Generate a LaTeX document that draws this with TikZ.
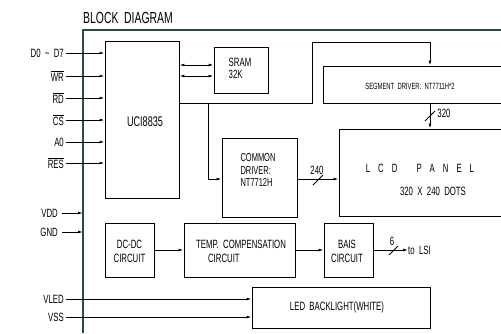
\documentclass[tikz,border=0pt]{standalone}
\usepackage{fontspec}
\setmainfont{Liberation Sans}[FakeStretch=0.65]
\usetikzlibrary{arrows.meta}
\definecolor{framecol}{RGB}{40,72,76}
\newcommand{\fsz}[1]{\fontsize{#1}{#1}\selectfont}
\newcommand{\ovl}[1]{$\overline{\mbox{#1}}$}
\begin{document}
\begin{tikzpicture}[x=1pt,y=-1pt,
  box/.style={draw,line width=0.85pt,inner sep=0},
  arr/.style={line width=0.85pt,-{Latex[length=5pt,width=2.8pt]}},
  darr/.style={line width=0.85pt,{Latex[length=5pt,width=2.8pt]}-{Latex[length=5pt,width=2.8pt]}},
  ln/.style={line width=0.85pt},
  lbl/.style={font=\fsz{12},inner sep=0,anchor=east},
  txt/.style={font=\fsz{12},inner sep=0,align=center},
]
\useasboundingbox (0,0) rectangle (501,333);
\clip (0,0) rectangle (501,333);

% frame
\draw[framecol,line width=1.1pt] (83,333) -- (83,30) -- (501,30);
\coordinate (fl) at (83,30);
\node[anchor=west,font=\fsz{16},inner sep=0] (title) at (83,18) {BLOCK\ \ DIAGRAM};

% boxes
\node[box,minimum width=74pt,minimum height=157pt] (uci) at (142,119.5) {};
\node[txt,font=\fsz{14}] (ucit) at (145,122) {UCI8835};
\node[box,minimum width=54pt,minimum height=46pt] (sram) at (241,70) {};
\node[txt,align=left] (sramt) at (240,68) {SRAM\\[0pt]32K};
\node[box,minimum width=197pt,minimum height=37pt] (seg) at (421.5,84.5) {};
\node[txt,font=\fsz{9}] (segt) at (410,86) {SEGMENT\ \ DRIVER:\ \ NT7711H*2};
\node[box,minimum width=75pt,minimum height=79pt] (cd) at (259.5,177.5) {};
\node[txt,align=left,font=\fsz{11.5}] (cdt) at (258,170) {COMMON\\[1pt]DRIVER:\\[1pt]NT7712H};
\node[box,minimum width=181pt,minimum height=87pt] (lcd) at (429.5,172.5) {};
\node[txt] (lcdt1) at (420,168) {L\hspace{8pt}C\hspace{8pt}D\hspace{19pt}P\hspace{8pt}A\hspace{8pt}N\hspace{8pt}E\hspace{8pt}L};
\node[txt] (lcdt2) at (433,191) {320\ \ X\ \ 240\ \ DOTS};
\node[box,minimum width=49pt,minimum height=54pt] (dcdc) at (129.5,250) {};
\node[txt] (dcdct) at (129.5,251) {DC-DC\\[2pt]CIRCUIT};
\node[box,minimum width=111pt,minimum height=54pt] (temp) at (239.5,250) {};
\node[txt,align=left] (tempt) at (241,251) {TEMP.\ \ COMPENSATION\\[2pt]\hspace*{12pt}CIRCUIT};
\node[box,minimum width=49pt,minimum height=54pt] (bais) at (348.5,250) {};
\node[txt] (baist) at (347,251) {BAIS\\[2pt]CIRCUIT};
\node[box,minimum width=178pt,minimum height=41pt] (led) at (341,307.5) {};
\node[txt] (ledt) at (337,307) {LED\ \ BACKLIGHT(WHITE)};

% input pins
\node[lbl] (pD) at (64,53) {D0\ \ \textasciitilde\ \ D7};
\node[lbl] (pWR) at (64,76) {\ovl{WR}};
\node[lbl] (pRD) at (64,98) {\ovl{RD}};
\node[lbl] (pCS) at (64,120) {\ovl{CS}};
\node[lbl] (pA0) at (64,142) {A0};
\node[lbl] (pRES) at (64,163) {\ovl{RES}};
\foreach \p in {pD,pWR,pRD,pCS,pA0,pRES}
  \draw[arr] ([xshift=2pt]\p.east) -- (\p.east -| uci.west);

\node[lbl] (pVDD) at (58,213) {VDD};
\node[lbl] (pGND) at (58,232) {GND};
\draw[arr] ([xshift=4pt]pVDD.east) -- (pVDD.east -| fl);
\draw[arr] ([xshift=4pt]pGND.east) -- (pGND.east -| fl);

\node[lbl] (pVLED) at (64,299) {VLED};
\node[lbl] (pVSS) at (64,317) {VSS};
\draw[arr] ([xshift=2pt]pVLED.east) -- (pVLED.east -| led.west);
\draw[arr] ([xshift=2pt]pVSS.east) -- (pVSS.east -| led.west);

% UCI <-> SRAM
\draw[darr] (uci.east |- 0,65) -- (sram.west |- 0,65);
\draw[darr] (uci.east |- 0,76) -- (sram.west |- 0,76);

% UCI -> segment driver
\draw[arr] (uci.east |- 0,103) -| (312,42) -| (seg.north -| 430,0);
% UCI -> common driver
\draw[arr] (208,103) |- (cd.west |- 0,179);

% common -> LCD
\draw[arr] (cd.east |- 0,179) -- (lcd.west |- 0,179);
\draw[ln] (313,185) -- (323,175);
\node[txt] (n240) at (317,170) {240};

% segment -> LCD
\draw[arr] (seg.south -| 430,0) -- (lcd.north -| 430,0);
\draw[ln] (425,121) -- (435,111);
\node[txt] (n320) at (444,113) {320};

% bottom chain
\draw[arr] (dcdc) -- (temp);
\draw[arr] (temp) -- (bais);
\node[txt,anchor=west] (tolsi) at (408,250) {to\ \ LSI};
\draw[arr] (bais.east) -- (tolsi.west);
\draw[ln] (389,255) -- (398,246);
\node[txt] (n6) at (392,241) {6};
\end{tikzpicture}
\end{document}
